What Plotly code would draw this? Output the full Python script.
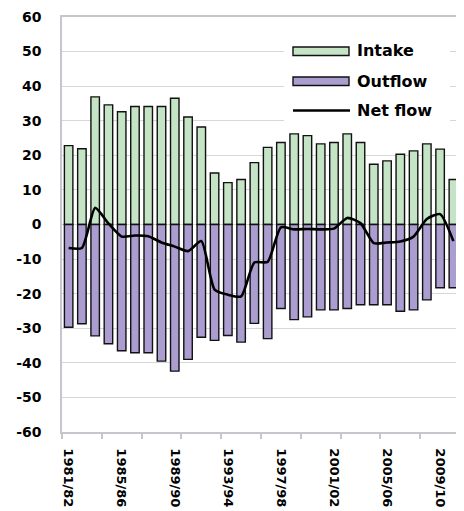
import plotly.graph_objects as go

years = ["1981/82", "1982/83", "1983/84", "1984/85", "1985/86", "1986/87", "1987/88",
         "1988/89", "1989/90", "1990/91", "1991/92", "1992/93", "1993/94", "1994/95",
         "1995/96", "1996/97", "1997/98", "1998/99", "1999/00", "2000/01", "2001/02",
         "2002/03", "2003/04", "2004/05", "2005/06", "2006/07", "2007/08", "2008/09",
         "2009/10", "2010/11"]
intake = [22.8, 21.9, 36.9, 34.6, 32.6, 34.1, 34.1, 34.1, 36.5, 31.1, 28.2, 14.9, 12.1, 13.0,
          17.9, 22.3, 23.7, 26.2, 25.7, 23.3, 23.7, 26.2, 23.7, 17.4, 18.4, 20.3, 21.3, 23.3,
          21.8, 13.0]
outflow = [-29.7, -28.7, -32.2, -34.5, -36.5, -37.1, -37.1, -39.5, -42.4, -39.0, -32.6, -33.5,
           -32.1, -34.0, -28.6, -33.0, -24.3, -27.5, -26.7, -24.7, -24.7, -24.3, -23.2, -23.2,
           -23.2, -25.1, -24.7, -21.8, -18.3, -18.3]
netflow = [-6.8, -6.8, 4.8, 0.3, -3.5, -3.2, -3.4, -5.2, -6.4, -7.7, -4.8, -18.8, -20.3, -20.8,
           -11.0, -10.8, -0.8, -1.4, -1.3, -1.4, -1.2, 1.9, 0.4, -5.4, -5.2, -4.9, -3.5, 1.6,
           3.0, -4.8]
label_every = 4
y_ticks = list(range(-60, 61, 10))

idx = list(range(len(years)))
font_family = "DejaVu Sans"
green = "#c5e4c6"
purple = "#ab9dd0"

# page has an 8px body margin; the figure is sized so the plot lands where the reference has it
PAGE_OFF = 8
ML, MT, MR, MB = 62 - PAGE_OFF, 17 - PAGE_OFF, 4, 79
W, H = 464 - PAGE_OFF, 511 - PAGE_OFF

fig = go.Figure()
fig.add_trace(go.Bar(x=idx, y=intake, name="Intake", marker=dict(color=green, line=dict(color="#111", width=1.4)),
                     hovertext=years, showlegend=False))
fig.add_trace(go.Bar(x=idx, y=outflow, name="Outflow", marker=dict(color=purple, line=dict(color="#111", width=1.4)),
                     hovertext=years, showlegend=False))
fig.add_trace(go.Scatter(x=idx, y=netflow, name="Net flow", mode="lines",
                         line=dict(color="#000", width=2.6, shape="spline", smoothing=0.6),
                         hovertext=years, showlegend=False))

# legend drawn manually (wide swatches as in reference); helpers convert page px to paper coords
def py(px):
    return 1 - (px - 17) / 415.0

def pxx(px):
    return (px - 62) / 398.0

shapes = [
    dict(type="rect", xref="paper", yref="paper", x0=pxx(284), x1=pxx(450), y0=py(127), y1=py(35),
         fillcolor="white", line=dict(width=0), layer="above"),
    dict(type="rect", xref="paper", yref="paper", x0=pxx(293), x1=pxx(349), y0=py(55.5), y1=py(47),
         fillcolor=green, line=dict(color="#111", width=1.4)),
    dict(type="rect", xref="paper", yref="paper", x0=pxx(293), x1=pxx(349), y0=py(85.5), y1=py(77),
         fillcolor=purple, line=dict(color="#111", width=1.4)),
    dict(type="line", xref="paper", yref="paper", x0=pxx(293), x1=pxx(350), y0=py(110.5), y1=py(110.5),
         line=dict(color="#000", width=2.6)),
]
annotations = []
for name, yy in (("Intake", 51), ("Outflow", 81), ("Net flow", 110.5)):
    annotations.append(dict(text="<b>%s</b>" % name, xref="paper", yref="paper", x=pxx(355), y=py(yy),
                            xanchor="left", yanchor="middle", showarrow=False,
                            font=dict(family=font_family, size=16, color="#000")))

fig.update_layout(
    width=W, height=H,
    margin=dict(l=ML, r=MR, t=MT, b=MB, autoexpand=False),
    paper_bgcolor="white", plot_bgcolor="white",
    barmode="relative", bargap=0.36,
    shapes=shapes, annotations=annotations,
    font=dict(family=font_family, size=14, color="#000"),
)
fig.update_xaxes(
    range=[-0.5, len(years) - 0.5],
    tickmode="array",
    tickvals=idx[::label_every],
    ticktext=["<b>%s</b>" % y for y in years[::label_every]],
    tickangle=90, ticks="", ticklabelstandoff=12,
    tickfont=dict(family=font_family, size=13, color="#000"),
    showgrid=False, zeroline=False, automargin=False,
    showline=True, linecolor="#c4c8cc", linewidth=1.5, mirror=True,
    minor=dict(tickmode="linear", tick0=-0.5, dtick=3, ticks="outside", ticklen=5,
               tickcolor="#c4c8cc", tickwidth=1.5, showgrid=False),
)
fig.update_yaxes(
    range=[-60, 60],
    tickmode="array", tickvals=y_ticks, ticktext=["<b>%d</b>" % v for v in y_ticks],
    ticks="", ticklabelstandoff=16,
    tickfont=dict(family=font_family, size=14, color="#000"),
    showgrid=True, gridcolor="#d4d8dc", gridwidth=1.3,
    zeroline=False, automargin=False,
    showline=True, linecolor="#c4c8cc", linewidth=1.5, mirror=True,
)

fig.write_html("out.html")
